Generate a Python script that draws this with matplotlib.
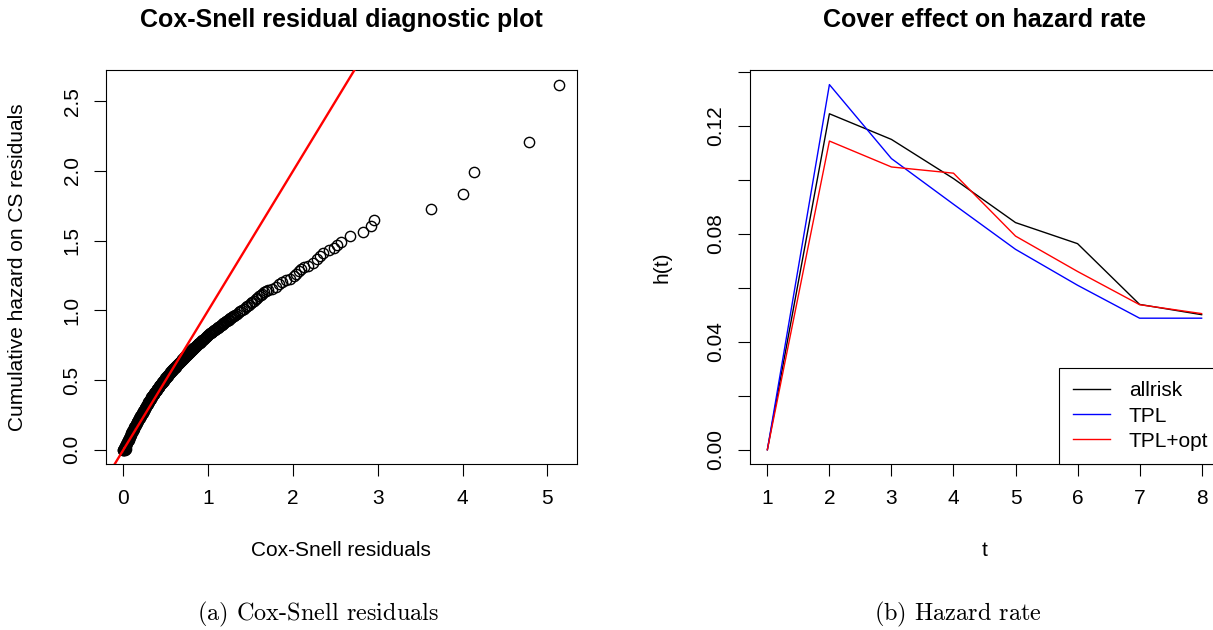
import matplotlib
matplotlib.use('Agg')
import matplotlib.pyplot as plt

plt.rcParams['font.family'] = ['Liberation Sans', 'DejaVu Sans']
plt.rcParams['mathtext.fontset'] = 'cm'

# ---------------- data: Cox-Snell residual plot ----------------
cs_resid = [
    0.000, 0.010, 0.020, 0.030,
    0.000, 0.005, 0.010, 0.015, 0.020, 0.025, 0.030, 0.035, 0.040, 0.045,
    0.050, 0.055, 0.060, 0.065, 0.070, 0.075, 0.080, 0.085, 0.090, 0.095,
    0.100, 0.105, 0.110, 0.115, 0.120, 0.125, 0.130, 0.135, 0.140, 0.145,
    0.150, 0.155, 0.160, 0.165, 0.170, 0.175, 0.180, 0.185, 0.190, 0.195,
    0.200, 0.205, 0.210, 0.215, 0.220, 0.225, 0.230, 0.235, 0.240, 0.245,
    0.250, 0.255, 0.260, 0.265, 0.270, 0.275, 0.280, 0.285, 0.290, 0.295,
    0.300, 0.305, 0.310, 0.315, 0.320, 0.325, 0.330, 0.335, 0.340, 0.345,
    0.350, 0.355, 0.360, 0.365, 0.370, 0.375, 0.380, 0.385, 0.390, 0.395,
    0.400, 0.405, 0.410, 0.415, 0.420, 0.425, 0.430, 0.435, 0.440, 0.445,
    0.450, 0.455, 0.460, 0.465, 0.470, 0.475, 0.480, 0.485, 0.490, 0.495,
    0.500, 0.505, 0.510, 0.515, 0.520, 0.525, 0.530, 0.535, 0.540, 0.545,
    0.550, 0.555, 0.560, 0.565, 0.570, 0.575, 0.580, 0.585, 0.590, 0.595,
    0.600, 0.605, 0.610, 0.615, 0.620, 0.625, 0.630, 0.635, 0.640, 0.645,
    0.650, 0.655, 0.660, 0.665, 0.670, 0.675, 0.680, 0.685, 0.690, 0.695,
    0.700, 0.705, 0.710, 0.715, 0.720, 0.725, 0.730, 0.735, 0.740, 0.745,
    0.750, 0.755, 0.760, 0.765, 0.770, 0.775, 0.780, 0.785, 0.790, 0.795,
    0.800, 0.805, 0.810, 0.815, 0.820, 0.825, 0.830, 0.835, 0.840, 0.845,
    0.850, 0.855, 0.860, 0.865, 0.870, 0.875, 0.880, 0.885, 0.890, 0.895,
    0.90, 0.91, 0.92, 0.93, 0.94, 0.95, 0.96, 0.97, 0.98, 0.99,
    1.00, 1.01, 1.02, 1.03, 1.04, 1.05, 1.06, 1.07, 1.08, 1.09,
    1.10, 1.11, 1.12, 1.13, 1.14, 1.15, 1.16, 1.17, 1.18, 1.19,
    1.20, 1.21, 1.22, 1.23, 1.24, 1.25, 1.26, 1.27, 1.28, 1.29,
    1.30, 1.32, 1.34, 1.36, 1.38, 1.40, 1.42, 1.44, 1.46, 1.48,
    1.50, 1.52, 1.54, 1.56, 1.58, 1.60, 1.62, 1.64, 1.66, 1.68,
    1.70, 1.75, 1.80, 1.84, 1.87, 1.92, 1.97, 2.01, 2.04, 2.07,
    2.10, 2.13, 2.18, 2.23, 2.28, 2.32, 2.35, 2.42, 2.48, 2.52,
    2.56, 2.67, 2.82, 2.92, 2.96, 3.63, 4.01, 4.13, 4.78, 5.14]
cum_hazard = [
    0.000, 0.000, 0.000, 0.005,
    0.000, 0.006, 0.012, 0.018, 0.024, 0.030, 0.036, 0.042, 0.048, 0.054,
    0.060, 0.067, 0.073, 0.080, 0.086, 0.093, 0.099, 0.106, 0.112, 0.119,
    0.125, 0.131, 0.137, 0.143, 0.149, 0.155, 0.161, 0.167, 0.173, 0.179,
    0.185, 0.191, 0.196, 0.202, 0.207, 0.213, 0.218, 0.224, 0.229, 0.235,
    0.240, 0.245, 0.250, 0.255, 0.260, 0.265, 0.270, 0.275, 0.280, 0.285,
    0.290, 0.296, 0.301, 0.307, 0.312, 0.318, 0.323, 0.329, 0.334, 0.340,
    0.345, 0.350, 0.355, 0.360, 0.365, 0.370, 0.375, 0.380, 0.385, 0.390,
    0.395, 0.399, 0.403, 0.408, 0.412, 0.416, 0.420, 0.424, 0.429, 0.433,
    0.437, 0.441, 0.445, 0.449, 0.453, 0.457, 0.461, 0.465, 0.469, 0.473,
    0.477, 0.481, 0.485, 0.488, 0.492, 0.496, 0.500, 0.504, 0.507, 0.511,
    0.515, 0.519, 0.522, 0.526, 0.529, 0.533, 0.537, 0.540, 0.544, 0.547,
    0.551, 0.555, 0.558, 0.562, 0.565, 0.569, 0.572, 0.576, 0.579, 0.583,
    0.586, 0.589, 0.593, 0.596, 0.599, 0.603, 0.606, 0.609, 0.612, 0.616,
    0.619, 0.622, 0.625, 0.629, 0.632, 0.635, 0.638, 0.641, 0.645, 0.648,
    0.651, 0.654, 0.657, 0.660, 0.663, 0.667, 0.670, 0.673, 0.676, 0.679,
    0.682, 0.685, 0.688, 0.691, 0.694, 0.697, 0.700, 0.703, 0.706, 0.709,
    0.712, 0.715, 0.718, 0.721, 0.724, 0.727, 0.729, 0.732, 0.735, 0.738,
    0.741, 0.744, 0.746, 0.749, 0.752, 0.755, 0.757, 0.760, 0.763, 0.765,
    0.768, 0.774, 0.779, 0.785, 0.790, 0.796, 0.802, 0.808, 0.813, 0.819,
    0.825, 0.830, 0.834, 0.839, 0.843, 0.848, 0.853, 0.857, 0.862, 0.866,
    0.871, 0.875, 0.880, 0.884, 0.889, 0.893, 0.897, 0.902, 0.906, 0.911,
    0.915, 0.920, 0.924, 0.929, 0.933, 0.938, 0.942, 0.947, 0.951, 0.956,
    0.960, 0.969, 0.977, 0.986, 0.994, 1.003, 1.013, 1.022, 1.032, 1.041,
    1.050, 1.060, 1.070, 1.080, 1.090, 1.100, 1.110, 1.120, 1.129, 1.137,
    1.145, 1.155, 1.170, 1.190, 1.205, 1.215, 1.225, 1.245, 1.260, 1.285,
    1.300, 1.310, 1.320, 1.340, 1.365, 1.390, 1.410, 1.430, 1.445, 1.470,
    1.490, 1.530, 1.560, 1.605, 1.650, 1.730, 1.835, 1.990, 2.210, 2.620]

# ---------------- data: hazard rate ----------------
t_vals = [1, 2, 3, 4, 5, 6, 7, 8]
h_allrisk = [0.0, 0.1244, 0.1149, 0.1004, 0.0841, 0.0763, 0.0538, 0.0500]
h_tpl = [0.0, 0.1352, 0.1078, 0.0909, 0.0742, 0.0609, 0.0487, 0.0487]
h_tplopt = [0.0, 0.1143, 0.1047, 0.1024, 0.0791, 0.0660, 0.0537, 0.0504]
series_labels = ['allrisk', 'TPL', 'TPL+opt']
series_colors = ['black', '#0000ff', '#ff0000']

W, H = 1213, 630
fig = plt.figure(figsize=(W / 100, H / 100), dpi=100)

FS = 15
tick_kw = dict(direction='out', length=8.6, width=0.8, labelsize=FS, pad=9)


def rpad(lo, hi):
    d = (hi - lo) * 0.04
    return lo - d, hi + d


# ---------------- left panel ----------------
ax1 = fig.add_axes([106 / W, 1 - 464.3 / H, 470.7 / W, 394.3 / H])
ax1.plot(cs_resid, cum_hazard, linestyle='none', marker='o', mfc='none',
         mec='black', ms=7.4, mew=1.0)
ax1.axline((0, 0), slope=1, color='#ff0000', lw=1.7, zorder=3)
ax1.set_xlim(*rpad(min(cs_resid), max(cs_resid)))
ax1.set_ylim(*rpad(min(cum_hazard), max(cum_hazard)))
ax1.set_xticks([0, 1, 2, 3, 4, 5])
ax1.set_yticks([0.0, 0.5, 1.0, 1.5, 2.0, 2.5])
ax1.set_yticklabels(['0.0', '0.5', '1.0', '1.5', '2.0', '2.5'])
ax1.tick_params(**tick_kw)
plt.setp(ax1.get_yticklabels(), rotation=90, va='center')
for s in ax1.spines.values():
    s.set_linewidth(0.8)
ax1.set_title('Cox-Snell residual diagnostic plot', fontsize=18, fontweight='bold', pad=31)
ax1.set_xlabel('Cox-Snell residuals', fontsize=FS, va='center')
ax1.xaxis.set_label_coords(0.5, (464.3 - 551) / 394.3)
ax1.set_ylabel('Cumulative hazard on CS residuals', fontsize=FS, va='center')
ax1.yaxis.set_label_coords((18 - 106) / 470.7, 0.5)

# ---------------- right panel ----------------
ax2 = fig.add_axes([750 / W, 1 - 464.3 / H, 469 / W, 394.3 / H])
for vals, lab, col in zip([h_allrisk, h_tpl, h_tplopt], series_labels, series_colors):
    ax2.plot(t_vals, vals, color=col, lw=1.0, label=lab)
allv = h_allrisk + h_tpl + h_tplopt
ax2.set_xlim(*rpad(min(t_vals), max(t_vals)))
ax2.set_ylim(*rpad(min(allv), max(allv)))
ax2.set_xticks(t_vals)
yt = [0.0, 0.02, 0.04, 0.06, 0.08, 0.10, 0.12, 0.14]
ax2.set_yticks(yt)
ax2.set_yticklabels(['0.00', '', '0.04', '', '0.08', '', '0.12', ''])
ax2.tick_params(**tick_kw)
plt.setp(ax2.get_yticklabels(), rotation=90, va='center')
for s in ax2.spines.values():
    s.set_linewidth(0.8)
ax2.set_title('Cover effect on hazard rate', fontsize=18, fontweight='bold', pad=31)
ax2.set_xlabel('t', fontsize=FS, va='center')
ax2.xaxis.set_label_coords(0.5, (464.3 - 551) / 394.3)
ax2.set_ylabel('h(t)', fontsize=FS, va='center')
ax2.yaxis.set_label_coords((662 - 750) / 469, 0.5)
leg = ax2.legend(loc='lower right', bbox_to_anchor=(1.006, 0.0), fontsize=FS,
                 frameon=True, fancybox=False, edgecolor='black', framealpha=1,
                 borderaxespad=0, handlelength=1.8, handletextpad=0.9,
                 labelspacing=0.3, borderpad=0.65)
leg.get_frame().set_linewidth(0.8)

# ---------------- captions ----------------
fig.text(318 / W, 1 - 614 / H, r'$\text{(a) Cox-Snell residuals}$', fontsize=17.5,
         ha='center', va='center')
fig.text(958 / W, 1 - 614 / H, r'$\text{(b) Hazard rate}$', fontsize=17.5,
         ha='center', va='center')

fig.savefig('out.png', dpi=100)
